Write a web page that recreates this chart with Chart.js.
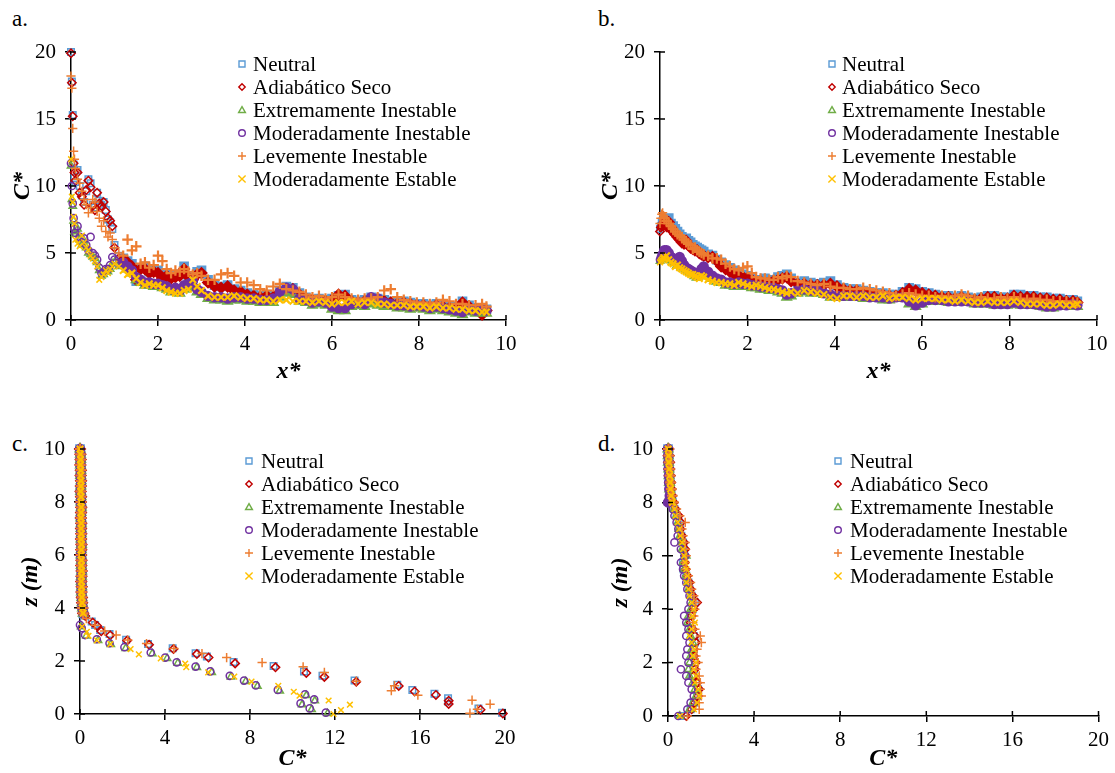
<!DOCTYPE html>
<html>
<head>
<meta charset="utf-8">
<script src="https://cdn.jsdelivr.net/npm/chart.js"></script>
<style>
  body { margin: 0; background: #fff; }
  #page { position: relative; width: 1115px; height: 773px; background: #fff; overflow: hidden; }
  canvas { position: absolute; }
  .tag { position: absolute; font-family: 'Liberation Serif', 'Times New Roman', serif; font-size: 23px; line-height: 1; color: #000; }
</style>
</head>
<body>
<div id="page">
  <div class="tag" style="left:12px;top:7px">a.</div>
  <div class="tag" style="left:598px;top:7px">b.</div>
  <div class="tag" style="left:12px;top:432px">c.</div>
  <div class="tag" style="left:598px;top:432px">d.</div>
  <canvas id="chartA" width="557" height="386" style="left:0;top:0"></canvas>
  <canvas id="chartB" width="558" height="386" style="left:557px;top:0"></canvas>
  <canvas id="chartC" width="557" height="387" style="left:0;top:386px"></canvas>
  <canvas id="chartD" width="558" height="387" style="left:557px;top:386px"></canvas>
</div>
<script>
// ---- data ----
const seriesNames = ['Neutral', 'Adiabático Seco', 'Extremamente Inestable',
  'Moderadamente Inestable', 'Levemente Inestable', 'Moderadamente Estable'];

// x* positions shared by panels a and b
const xStar = [0, 0.02, 0.04, 0.06, 0.08, 0.1, 0.15, 0.2, 0.25, 0.3, 0.35, 0.4, 0.45, 0.5, 0.55, 0.6, 0.65, 0.7, 0.75, 0.8, 0.85, 0.9, 0.95, 1.0,
  1.1, 1.2, 1.3, 1.4, 1.5, 1.6, 1.7, 1.8, 1.9, 2.0, 2.1, 2.2, 2.3, 2.4, 2.5, 2.6, 2.7, 2.8, 2.9, 3.0,
  3.15, 3.3, 3.45, 3.6, 3.75, 3.9, 4.05, 4.2, 4.35, 4.5,
  4.65, 4.8, 4.95, 5.1, 5.25, 5.4, 5.55, 5.7, 5.85, 6.0,
  6.15, 6.3, 6.45, 6.6, 6.75, 6.9, 7.05, 7.2, 7.35, 7.5,
  7.65, 7.8, 7.95, 8.1, 8.25, 8.4, 8.55, 8.7, 8.85, 9.0,
  9.15, 9.3, 9.45, 9.55];

// panel a: C* along x*
const aNeutral = [20.0, 17.8, 15.3, 11.6, 10.6, 10.3, 11.2, 10.0, 9.3, 8.8, 9.6, 10.5, 10.2, 8.6, 8.4, 9.5, 8.9, 8.6, 8.8, 8.2, 7.5, 7.3, 6.8, 5.6,
  4.8, 4.6, 4.4, 4.2, 2.9, 3.9, 4.0, 3.6, 3.8, 3.7, 3.3, 3.5, 3.2, 3.3, 3.4, 4.0, 3.3, 3.1, 3.6, 3.7,
  3.0, 2.6, 2.5, 2.6, 2.3, 2.2, 2.0, 1.9, 1.8, 1.9,
  1.8, 2.2, 2.5, 2.4, 2.0, 1.7, 1.5, 1.6, 1.5, 1.6,
  1.8, 1.9, 1.5, 1.4, 1.5, 1.7, 1.6, 1.5, 1.4, 1.3,
  1.4, 1.3, 1.2, 1.2, 1.1, 1.2, 1.1, 1.0, 1.0, 1.4,
  1.1, 0.9, 0.9, 0.8];
const aAdiabatico = [19.9, 17.7, 15.2, 11.7, 11.0, 10.4, 11.0, 9.5, 9.2, 8.6, 9.7, 10.4, 9.9, 8.5, 8.2, 9.5, 8.7, 8.5, 8.8, 8.1, 7.6, 7.4, 7.0, 5.4,
  4.6, 4.5, 4.3, 4.0, 3.0, 3.8, 3.8, 3.5, 3.6, 3.5, 3.1, 3.3, 3.1, 3.2, 3.3, 3.8, 3.2, 3.0, 3.4, 3.5,
  2.8, 2.5, 2.4, 2.5, 2.2, 2.1, 1.9, 1.8, 1.7, 1.8,
  1.7, 2.1, 2.3, 2.3, 1.9, 1.6, 1.5, 1.5, 1.4, 1.5,
  1.9, 1.8, 1.4, 1.3, 1.4, 1.6, 1.5, 1.4, 1.3, 1.2,
  1.3, 1.2, 1.1, 1.1, 1.0, 1.1, 1.0, 0.9, 0.9, 1.3,
  1.0, 0.8, 0.4, 0.7];
const aExtremamente = [11.5, 9.0, 8.5, 7.4, 6.6, 6.4, 6.8, 6.0, 5.6, 5.9, 5.4, 5.0, 4.9, 4.7, 4.6, 4.3, 3.7, 3.3, 3.4, 3.6, 3.6, 3.8, 4.2, 4.3,
  4.0, 4.1, 3.8, 3.5, 3.0, 2.8, 2.6, 2.6, 2.5, 2.5, 2.4, 2.3, 2.1, 2.2, 2.0, 2.3, 2.4, 2.6, 2.1, 1.9,
  1.6, 1.5, 1.5, 1.4, 1.5, 1.5, 1.4, 1.4, 1.3, 1.3,
  1.3, 1.7, 2.0, 1.9, 1.4, 1.3, 1.1, 1.2, 1.1, 0.8,
  0.7, 0.7, 1.0, 1.1, 1.0, 1.2, 1.1, 1.0, 1.0, 0.9,
  0.9, 0.8, 0.9, 0.8, 0.7, 0.8, 0.7, 0.6, 0.5, 0.4,
  0.6, 0.5, 0.6, 0.5];
const aModInestable = [11.7, 10.0, 8.7, 7.6, 6.8, 6.5, 7.0, 6.2, 5.8, 6.1, 5.6, 5.2, 6.2, 5.0, 4.8, 4.5, 3.9, 3.5, 3.6, 3.8, 3.8, 4.1, 4.7, 4.5,
  4.2, 4.3, 4.0, 3.7, 3.2, 3.0, 2.8, 2.8, 2.7, 2.7, 2.6, 2.5, 2.3, 2.4, 2.2, 2.6, 2.7, 2.9, 2.3, 2.1,
  1.8, 1.7, 1.7, 1.6, 1.7, 1.7, 1.6, 1.6, 1.5, 1.5,
  1.6, 2.1, 2.4, 2.3, 1.6, 1.5, 1.3, 1.4, 1.3, 1.0,
  0.9, 0.9, 1.2, 1.3, 1.2, 1.7, 1.6, 1.3, 1.2, 1.1,
  1.1, 1.0, 1.1, 1.0, 0.9, 1.0, 0.9, 0.8, 0.7, 0.6,
  0.8, 0.7, 0.8, 0.7];
const aLevemente = [18.2, 17.3, 14.3, 12.6, 12.0, 11.3, 10.5, 10.2, 9.6, 9.0, 8.6, 8.0, 8.4, 9.0, 8.8, 8.1, 7.6, 7.0, 7.4, 6.6, 6.2, 6.5, 6.0, 5.4,
  5.0, 4.8, 6.0, 5.2, 5.5, 4.2, 4.3, 3.9, 4.1, 4.8, 4.4, 3.8, 3.5, 3.7, 3.6, 3.8, 3.6, 3.4, 3.5, 3.3,
  3.0, 3.0, 3.4, 3.5, 3.3, 2.8, 2.8, 2.6, 2.3, 2.2,
  2.5, 2.7, 2.3, 2.2, 2.1, 1.9, 1.7, 1.8, 1.6, 1.7,
  1.9, 1.7, 1.6, 1.5, 1.6, 1.6, 1.7, 2.2, 2.3, 1.7,
  1.5, 1.4, 1.3, 1.3, 1.2, 1.3, 1.5, 1.4, 1.2, 1.2,
  1.1, 1.1, 1.2, 1.0];
const aEstable = [12.0, 9.2, 8.8, 7.7, 7.2, 6.0, 5.7, 5.5, 6.3, 5.8, 5.4, 5.2, 4.8, 4.6, 4.4, 4.0, 3.0, 3.2, 3.4, 3.7, 3.5, 3.8, 4.0, 4.2,
  4.0, 3.7, 3.4, 3.5, 3.1, 2.8, 2.6, 2.7, 2.6, 2.6, 2.4, 2.2, 2.1, 2.0, 2.0, 2.2, 2.3, 3.0, 2.5, 2.2,
  1.8, 1.7, 1.7, 1.7, 1.8, 1.7, 1.6, 1.6, 1.5, 1.5,
  1.4, 1.5, 1.5, 1.4, 1.4, 1.4, 1.3, 1.4, 1.3, 1.2,
  1.3, 1.3, 1.4, 1.2, 1.3, 1.3, 1.2, 1.2, 1.1, 1.1,
  1.1, 1.0, 1.0, 1.0, 0.9, 1.0, 0.9, 0.9, 0.8, 0.8,
  0.7, 0.7, 0.6, 0.6];

// panel b: C* along x*
const bNeutral = [6.8, 7.0, 7.3, 7.4, 7.6, 7.5, 7.3, 7.6, 7.2, 7.0, 6.8, 6.6, 6.4, 6.2, 6.0, 6.1, 5.9, 5.8, 5.6, 5.5, 5.4, 5.3, 5.2, 5.1,
  4.9, 4.8, 4.5, 4.3, 4.1, 3.9, 3.7, 3.6, 3.4, 3.3, 3.1, 3.0, 3.0, 3.1, 2.9, 3.0, 3.2, 3.3, 3.4, 3.1,
  2.8, 2.9, 2.8, 2.7, 2.8, 2.9, 2.6, 2.4, 2.3, 2.3,
  2.2, 2.1, 2.0, 2.0, 1.9, 1.9, 2.1, 2.4, 2.3, 2.1,
  2.0, 1.9, 1.8, 1.8, 1.7, 1.8, 1.7, 1.6, 1.7, 1.8,
  1.8, 1.7, 1.7, 1.9, 1.9, 1.8, 1.8, 1.7, 1.7, 1.6,
  1.6, 1.5, 1.5, 1.4];
const bAdiabatico = [6.6, 6.9, 7.0, 7.1, 7.3, 7.2, 7.0, 7.3, 6.9, 6.6, 6.4, 6.2, 6.0, 5.8, 5.7, 5.9, 5.6, 5.4, 5.3, 5.2, 5.2, 5.0, 4.9, 4.8,
  4.7, 4.7, 4.4, 4.0, 3.8, 3.6, 3.4, 3.3, 3.2, 3.1, 3.0, 2.9, 2.9, 2.8, 2.8, 2.9, 3.0, 3.1, 3.2, 2.9,
  2.7, 2.7, 2.6, 2.6, 2.6, 2.7, 2.5, 2.3, 2.2, 2.2,
  2.1, 2.0, 1.9, 1.9, 1.8, 1.8, 2.0, 2.3, 2.2, 2.0,
  1.9, 1.8, 1.7, 1.7, 1.6, 1.7, 1.6, 1.5, 1.6, 1.7,
  1.7, 1.6, 1.6, 1.8, 1.7, 1.7, 1.7, 1.6, 1.6, 1.5,
  1.5, 1.4, 1.4, 1.3];
const bExtremamente = [4.4, 4.5, 4.6, 4.8, 4.9, 4.8, 4.7, 4.6, 4.5, 4.4, 4.3, 4.1, 4.2, 4.0, 3.9, 3.8, 3.7, 3.6, 3.5, 3.3, 3.2, 3.3, 3.6, 3.5,
  3.3, 3.1, 2.9, 2.8, 2.6, 2.6, 2.5, 2.6, 2.5, 2.5, 2.4, 2.4, 2.3, 2.3, 2.2, 2.2, 2.1, 2.0, 1.7, 1.8,
  2.0, 2.1, 2.0, 2.0, 1.9, 1.7, 1.7, 1.7, 1.7, 1.7,
  1.6, 1.6, 1.6, 1.5, 1.5, 1.6, 1.6, 1.2, 1.0, 1.2,
  1.4, 1.4, 1.4, 1.3, 1.3, 1.3, 1.3, 1.2, 1.2, 1.2,
  1.1, 1.1, 1.1, 1.2, 1.1, 1.1, 1.1, 1.0, 0.9, 0.9,
  1.0, 1.0, 1.1, 1.0];
const bModInestable = [4.5, 4.7, 4.9, 5.0, 5.1, 5.2, 5.2, 5.0, 4.7, 4.6, 4.4, 4.5, 4.7, 4.4, 4.1, 3.9, 3.8, 3.7, 3.6, 3.5, 3.4, 3.5, 3.8, 4.0,
  3.6, 3.3, 3.1, 3.0, 2.8, 2.8, 2.7, 2.8, 2.7, 2.7, 2.6, 2.6, 2.5, 2.5, 2.4, 2.4, 2.3, 2.2, 1.9, 2.0,
  2.2, 2.3, 2.2, 2.2, 2.0, 1.9, 1.8, 1.8, 1.8, 1.8,
  1.8, 1.7, 1.7, 1.7, 1.6, 1.7, 1.7, 1.4, 1.1, 1.3,
  1.5, 1.5, 1.5, 1.4, 1.4, 1.4, 1.4, 1.3, 1.3, 1.3,
  1.2, 1.2, 1.2, 1.3, 1.2, 1.2, 1.2, 1.1, 1.0, 1.0,
  1.1, 1.1, 1.2, 1.1];
const bLevemente = [7.2, 7.6, 7.9, 8.0, 7.8, 7.6, 7.4, 7.2, 7.0, 6.8, 6.6, 6.4, 6.3, 6.2, 6.0, 5.8, 5.7, 5.6, 5.3, 5.4, 5.2, 5.1, 5.0, 4.9,
  4.8, 4.6, 4.6, 4.5, 4.2, 4.0, 3.8, 3.7, 3.9, 4.0, 3.5, 3.2, 3.1, 3.1, 3.0, 3.0, 3.2, 3.1, 3.3, 3.2,
  2.9, 2.8, 2.7, 2.6, 2.7, 2.5, 2.4, 2.4, 2.3, 2.3,
  2.4, 2.3, 2.2, 2.1, 2.0, 1.8, 1.9, 2.0, 1.9, 1.8,
  1.8, 1.7, 1.8, 1.7, 1.8, 1.9, 1.8, 1.6, 1.7, 1.6,
  1.6, 1.7, 1.6, 1.7, 1.6, 1.5, 1.6, 1.5, 1.5, 1.4,
  1.4, 1.4, 1.3, 1.3];
const bEstable = [4.3, 4.4, 4.5, 4.6, 4.7, 4.6, 4.8, 4.5, 4.3, 4.2, 4.0, 4.1, 3.9, 3.8, 3.7, 3.6, 3.5, 3.4, 3.4, 3.3, 3.2, 3.1, 3.3, 3.2,
  3.0, 2.9, 2.8, 2.8, 2.7, 2.7, 2.6, 2.8, 2.7, 2.6, 2.5, 2.6, 2.5, 2.4, 2.3, 2.3, 2.2, 2.1, 2.0, 2.1,
  2.0, 2.2, 2.1, 2.0, 1.9, 1.7, 1.6, 1.8, 1.8, 1.7,
  1.8, 1.7, 1.7, 1.8, 1.6, 1.7, 1.7, 1.6, 1.5, 1.6,
  1.6, 1.6, 1.5, 1.5, 1.4, 1.5, 1.4, 1.3, 1.3, 1.4,
  1.3, 1.3, 1.3, 1.4, 1.3, 1.2, 1.2, 1.2, 1.1, 1.1,
  1.2, 1.1, 1.1, 1.2];

// panel c: upper part of the profile (all series sit on C* ~ 0)
const cUpperZ = [10, 9.8, 9.6, 9.4, 9.2, 9, 8.8, 8.6, 8.4, 8.2, 8, 7.8, 7.6, 7.4, 7.2, 7, 6.8, 6.6, 6.4, 6.2,
  6, 5.8, 5.6, 5.4, 5.2, 5, 4.8, 4.6, 4.4, 4.2, 4, 3.8];
const cUpperC = [0.0, 0.02, 0.03, 0.02, 0.04, 0.03, 0.05, 0.04, 0.03, 0.05, 0.04, 0.06, 0.05, 0.04, 0.06, 0.05, 0.06, 0.05, 0.07, 0.06,
  0.05, 0.07, 0.06, 0.08, 0.07, 0.06, 0.08, 0.07, 0.09, 0.1, 0.12, 0.15];
// panel c: lower part, [C*, z]
const cNeutral = [[0.2, 3.72], [0.55, 3.49], [0.71, 3.36], [0.95, 3.17], [1.39, 3.02], [2.17, 2.8], [3.2, 2.64], [4.36, 2.48],
  [5.44, 2.29], [5.97, 2.17], [7.23, 1.96], [9.11, 1.81], [10.54, 1.6], [11.41, 1.44], [12.92, 1.26], [14.93, 1.1],
  [15.64, 0.91], [16.68, 0.76], [17.32, 0.59], [17.32, 0.47], [18.75, 0.21], [19.86, 0.05]];
const cAdiabatico = [[0.25, 3.7], [0.6, 3.45], [0.8, 3.33], [1.0, 3.12], [1.42, 2.97], [2.22, 2.77], [3.25, 2.61], [4.4, 2.45],
  [5.5, 2.26], [6.05, 2.13], [7.3, 1.91], [9.2, 1.76], [10.65, 1.55], [11.5, 1.4], [13.0, 1.22], [15.0, 1.06],
  [15.75, 0.85], [16.75, 0.72], [17.35, 0.5], [17.35, 0.38], [18.85, 0.16], [19.9, 0.02]];
const cExtremamente = [[0.05, 3.3], [0.3, 2.95], [0.85, 2.78], [1.45, 2.63], [2.15, 2.48], [3.4, 2.28], [4.1, 2.1], [4.6, 1.92],
  [5.5, 1.76], [6.2, 1.57], [7.1, 1.4], [7.8, 1.23], [8.35, 1.05], [9.4, 0.87], [10.65, 0.7], [11.05, 0.5],
  [10.45, 0.35], [10.9, 0.17], [11.65, 0.02]];
const cModInestable = [[0.0, 3.36], [0.08, 3.24], [0.24, 2.98], [0.79, 2.82], [1.39, 2.67], [2.09, 2.52], [3.33, 2.32], [4.01, 2.13],
  [4.55, 1.95], [5.44, 1.79], [6.13, 1.61], [7.05, 1.44], [7.72, 1.26], [8.27, 1.08], [9.31, 0.91], [10.59, 0.74],
  [11.02, 0.55], [10.38, 0.4], [10.81, 0.21], [11.57, 0.05]];
const cLevemente = [[0.3, 3.6], [0.7, 3.35], [1.16, 3.13], [1.7, 2.98], [2.25, 2.79], [3.13, 2.66], [4.42, 2.47], [5.74, 2.28],
  [6.9, 2.13], [8.57, 1.94], [10.5, 1.78], [11.5, 1.57], [13.0, 1.24], [14.65, 0.88], [14.8, 1.07], [15.9, 0.71],
  [18.45, 0.52], [18.35, 0.03], [18.7, 0.18], [19.3, 0.37]];
const cEstable = [[0.1, 3.3], [0.32, 3.1], [0.4, 2.95], [0.8, 2.78], [1.43, 2.64], [2.38, 2.45], [2.77, 2.25], [3.8, 2.1],
  [4.95, 1.9], [5.0, 1.77], [6.03, 1.57], [7.26, 1.41], [8.07, 1.22], [9.33, 1.06], [10.06, 0.84], [10.33, 0.69],
  [11.7, 0.51], [12.7, 0.35], [12.28, 0.15], [11.93, 0.0]];

// panel d: C* at heights z
const dZ = [10, 9.75, 9.5, 9.25, 9, 8.75, 8.5, 8.25, 8, 7.75, 7.5, 7.25, 7, 6.75, 6.5, 6.25, 6, 5.75, 5.5, 5.25,
  5, 4.75, 4.5, 4.25, 4, 3.75, 3.5, 3.25, 3, 2.75, 2.5, 2.25, 2, 1.75, 1.5, 1.25, 1, 0.75, 0.5, 0.25, 0];
const dNeutral = [0.0, 0.02, 0.03, 0.05, 0.06, 0.08, 0.1, 0.12, 0.18, 0.3, 0.4, 0.5, 0.55, 0.62, 0.7, 0.72, 0.75, 0.7, 0.72, 0.85,
  0.95, 1.0, 1.1, 1.25, 1.15, 1.05, 1.0, 1.1, 1.2, 1.25, 1.2, 1.15, 1.25, 1.2, 1.1, 1.3, 1.4, 1.35, 1.2, 1.05, 0.6];
const dAdiabatico = [0.02, 0.03, 0.05, 0.06, 0.08, 0.1, 0.12, 0.15, 0.22, 0.35, 0.5, 0.6, 0.58, 0.65, 0.75, 0.8, 0.8, 0.78, 0.82, 0.9,
  1.0, 1.05, 1.15, 1.35, 1.2, 1.1, 1.05, 1.15, 1.25, 1.3, 1.2, 1.2, 1.3, 1.25, 1.2, 1.35, 1.45, 1.4, 1.25, 1.1, 0.85];
const dExtremamente = [0.0, 0.01, 0.02, 0.04, 0.05, 0.07, 0.08, 0.1, 0.15, 0.28, 0.38, 0.45, 0.5, 0.55, 0.62, 0.65, 0.85, 0.7, 0.75, 0.82,
  0.9, 0.95, 1.05, 1.1, 1.05, 0.95, 0.9, 1.0, 1.05, 1.15, 1.1, 1.05, 1.0, 0.95, 1.0, 1.15, 1.25, 1.3, 1.15, 1.0, 0.55];
const dModInestable = [0.0, 0.01, 0.02, 0.03, 0.04, 0.05, 0.06, 0.08, 0.0, 0.22, 0.3, 0.4, 0.48, 0.45, 0.3, 0.6, 0.8, 0.6, 0.7, 0.75,
  0.85, 0.9, 1.0, 1.05, 0.95, 0.75, 0.85, 0.95, 0.85, 1.0, 0.9, 0.85, 0.95, 0.6, 0.85, 0.95, 1.1, 1.2, 1.05, 0.9, 0.48];
const dLevemente = [0.02, 0.04, 0.05, 0.07, 0.09, 0.12, 0.15, 0.2, 0.25, 0.4, 0.55, 0.8, 0.65, 0.7, 0.8, 0.8, 0.85, 0.8, 0.85, 0.95,
  1.05, 1.1, 1.2, 1.3, 1.25, 1.2, 1.15, 1.25, 1.5, 1.55, 1.35, 1.3, 1.4, 1.3, 1.45, 1.5, 1.5, 1.55, 1.45, 1.45, 0.9];
const dEstable = [0.01, 0.03, 0.04, 0.06, 0.08, 0.1, 0.12, 0.15, 0.2, 0.3, 0.35, 0.45, 0.52, 0.58, 0.65, 0.7, 0.75, 0.8, 0.85, 0.9,
  0.85, 0.95, 1.0, 1.1, 1.2, 1.15, 1.25, 1.1, 1.0, 1.1, 1.2, 1.15, 1.3, 1.2, 1.3, 1.25, 1.4, 1.45, 1.35, 1.2, 0.55];

// ---- styles ----
const colors = ['#5B9BD5', '#C00000', '#70AD47', '#7030A0', '#ED7D31', '#FFC000'];
const marks = ['rect', 'rectRot', 'triangle', 'circle', 'cross', 'crossRot'];
const markRadius = [4.6, 4.2, 4.2, 3.6, 4.6, 4.0];
const FONT = "'Liberation Serif', 'Times New Roman', serif";

Chart.defaults.font.family = FONT;
Chart.defaults.color = '#000';

function drawMark(ctx, style, x, y, r, color) {
  ctx.save();
  ctx.strokeStyle = color;
  ctx.lineWidth = 1.4;
  ctx.beginPath();
  if (style === 'rect') {
    ctx.rect(x - r, y - r, 2 * r, 2 * r);
  } else if (style === 'rectRot') {
    ctx.moveTo(x, y - r); ctx.lineTo(x + r, y); ctx.lineTo(x, y + r); ctx.lineTo(x - r, y); ctx.closePath();
  } else if (style === 'triangle') {
    ctx.moveTo(x, y - r); ctx.lineTo(x + r, y + r * 0.75); ctx.lineTo(x - r, y + r * 0.75); ctx.closePath();
  } else if (style === 'circle') {
    ctx.arc(x, y, r, 0, Math.PI * 2);
  } else if (style === 'cross') {
    ctx.moveTo(x - r, y); ctx.lineTo(x + r, y); ctx.moveTo(x, y - r); ctx.lineTo(x, y + r);
  } else {
    ctx.moveTo(x - r, y - r); ctx.lineTo(x + r, y + r); ctx.moveTo(x + r, y - r); ctx.lineTo(x - r, y + r);
  }
  ctx.stroke();
  ctx.restore();
}

// legend drawn inside the plot, like the original
const sideLegend = {
  id: 'sideLegend',
  afterDraw(chart, args, opts) {
    const ctx = chart.ctx;
    const legendR = [3, 3.2, 3.4, 3.3, 4, 3.6];
    ctx.save();
    ctx.font = opts.size + 'px ' + FONT;
    ctx.textBaseline = 'middle';
    chart.data.datasets.forEach((ds, i) => {
      const y = opts.y + i * opts.dy;
      drawMark(ctx, marks[i], opts.x, y, legendR[i], colors[i]);
      ctx.fillStyle = '#000';
      ctx.fillText(ds.label, opts.tx, y + 1);
    });
    ctx.restore();
  }
};

// tick marks that cross the axis line (inner half)
const crossTicks = {
  id: 'crossTicks',
  afterDraw(chart) {
    const ctx = chart.ctx;
    const xs = chart.scales.x, ys = chart.scales.y;
    const area = chart.chartArea;
    ctx.save();
    ctx.strokeStyle = '#000';
    ctx.lineWidth = 1.5;
    ctx.beginPath();
    xs.ticks.forEach(t => {
      const px = xs.getPixelForValue(t.value);
      ctx.moveTo(px, area.bottom); ctx.lineTo(px, area.bottom - 5);
    });
    ys.ticks.forEach(t => {
      const py = ys.getPixelForValue(t.value);
      ctx.moveTo(area.left, py); ctx.lineTo(area.left + 5, py);
    });
    ctx.stroke();
    ctx.restore();
  }
};

// dense(pt) tells which stretch of a curve is packed so tightly it reads as a solid ribbon
function makeSets(pointLists, dense) {
  const isDense = c => !!(c.raw && dense(c.raw));
  return pointLists.map((pts, i) => ({
    label: seriesNames[i],
    data: pts,
    showLine: false,
    clip: false,
    order: 6 - i,
    pointStyle: marks[i],
    pointRadius: c => isDense(c) ? markRadius[i] * 1.15 : markRadius[i],
    pointHoverRadius: markRadius[i],
    pointBorderWidth: c => isDense(c) ? 2.2 : 1.5,
    borderColor: colors[i],
    pointBorderColor: colors[i],
    backgroundColor: 'rgba(0,0,0,0)',
    pointBackgroundColor: c => isDense(c) ? colors[i] : 'rgba(0,0,0,0)'
  }));
}

function axis(min, max, step, title, fit, isX) {
  return {
    type: 'linear', min: min, max: max,
    afterFit: s => { if (isX) s.height = fit; else s.width = fit; },
    ticks: { stepSize: step, padding: isX ? 6 : 9, font: { size: 21 }, color: '#000' },
    grid: { drawOnChartArea: false, drawTicks: true, tickLength: 6, color: '#000', lineWidth: 1.5 },
    border: { display: true, color: '#000', width: 1.5 },
    title: { display: true, text: title, padding: 0, color: '#000',
      font: { size: 24, weight: 'bold', style: 'italic', family: FONT } }
  };
}

function makePanel(id, sets, p) {
  new Chart(document.getElementById(id), {
    type: 'scatter',
    data: { datasets: sets },
    options: {
      responsive: false, animation: false, devicePixelRatio: 1,
      layout: { padding: p.pad },
      plugins: { legend: { display: false }, tooltip: { enabled: false }, sideLegend: p.legend },
      scales: {
        x: axis(p.x[0], p.x[1], p.x[2], p.xTitle, p.xH, true),
        y: axis(p.y[0], p.y[1], p.y[2], p.yTitle, p.yW, false)
      }
    },
    plugins: [sideLegend, crossTicks]
  });
}

const along = arr => xStar.map((x, i) => ({ x: x, y: arr[i] }));
const profileC = lower => cUpperZ.map((z, i) => ({ x: cUpperC[i], y: z }))
  .concat(lower.map(p => ({ x: p[0], y: p[1] })));
const profileD = arr => dZ.map((z, i) => ({ x: arr[i], y: z }));

makePanel('chartA',
  makeSets([aNeutral, aAdiabatico, aExtremamente, aModInestable, aLevemente, aEstable].map(along), p => p.x >= 1.15),
  { pad: { left: 8, right: 51, top: 52, bottom: 0 }, xH: 66, yW: 63,
    x: [0, 10, 2], y: [0, 20, 5], xTitle: 'x*', yTitle: 'C*',
    legend: { x: 242, tx: 253, y: 64, dy: 23, size: 21 } });

makePanel('chartB',
  makeSets([bNeutral, bAdiabatico, bExtremamente, bModInestable, bLevemente, bEstable].map(along), p => p.x >= 0.1),
  { pad: { left: 39, right: 18, top: 52, bottom: 0 }, xH: 66, yW: 64,
    x: [0, 10, 2], y: [0, 20, 5], xTitle: 'x*', yTitle: 'C*',
    legend: { x: 275, tx: 285, y: 64, dy: 23, size: 21 } });

makePanel('chartC',
  makeSets([cNeutral, cAdiabatico, cExtremamente, cModInestable, cLevemente, cEstable].map(profileC), p => p.y >= 3.8),
  { pad: { left: 16, right: 52, top: 63, bottom: 0 }, xH: 59, yW: 64,
    x: [0, 20, 4], y: [0, 10, 2], xTitle: 'C*', yTitle: 'z (m)',
    legend: { x: 249, tx: 261, y: 75, dy: 23, size: 21 } });

makePanel('chartD',
  makeSets([dNeutral, dAdiabatico, dExtremamente, dModInestable, dLevemente, dEstable].map(profileD), p => p.y >= 8),
  { pad: { left: 49, right: 15, top: 63, bottom: 0 }, xH: 57, yW: 62,
    x: [0, 20, 4], y: [0, 10, 2], xTitle: 'C*', yTitle: 'z (m)',
    legend: { x: 281, tx: 293, y: 75, dy: 23, size: 21 } });
</script>
</body>
</html>
